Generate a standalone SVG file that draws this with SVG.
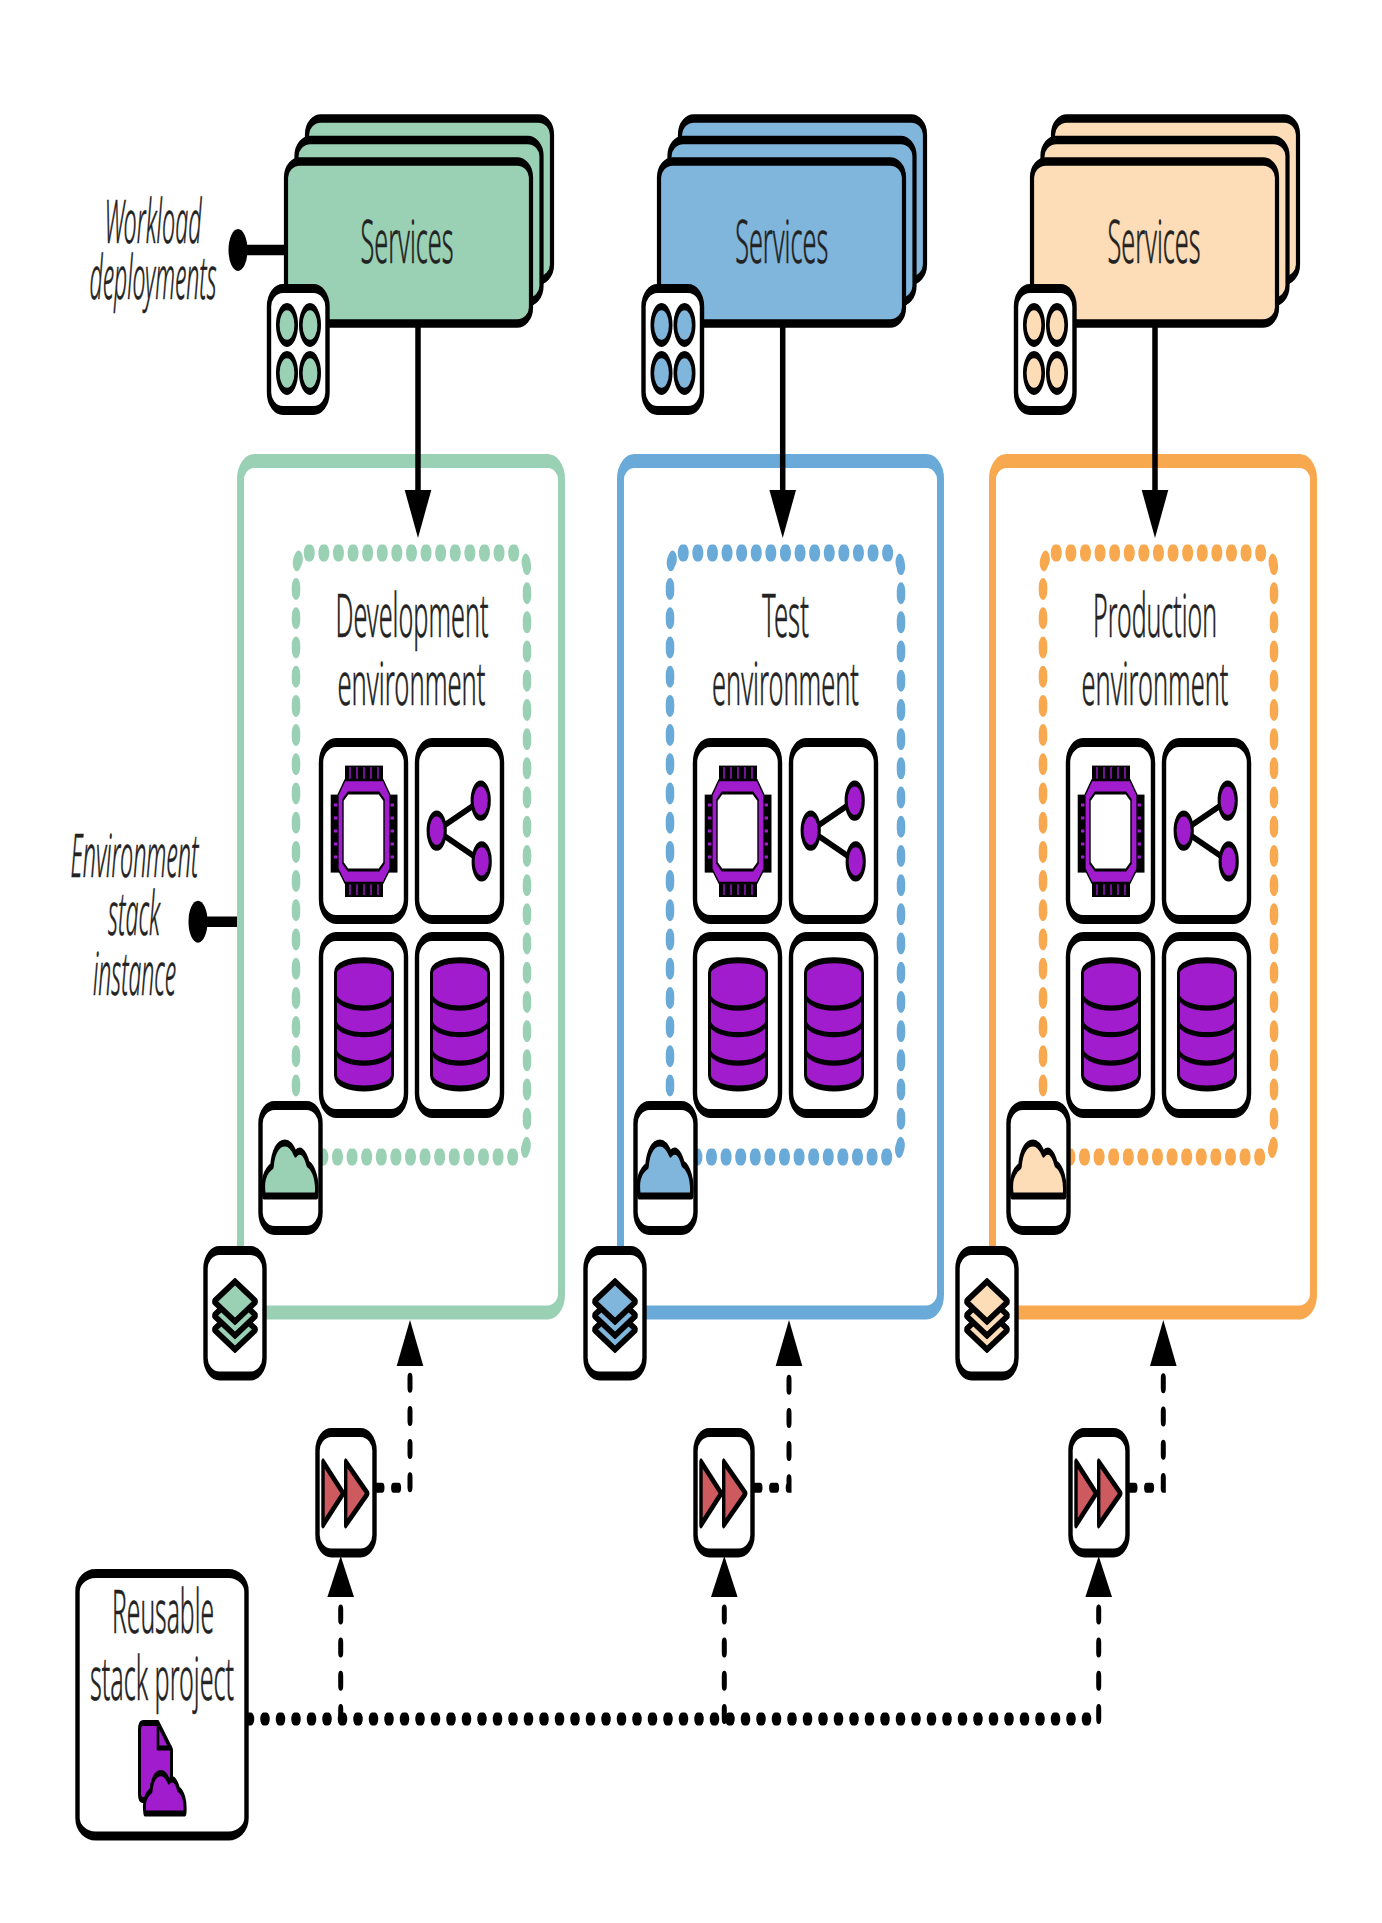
<svg xmlns="http://www.w3.org/2000/svg" width="1382" height="1923" viewBox="0 0 1382 1923">
<style>
.t{font-family:"Noto Sans","Open Sans",sans-serif;font-weight:300;font-size:30px;fill:#222;stroke:#222;stroke-width:.3;text-anchor:middle}
.i{font-style:italic}
.box{fill:#fff;stroke:#000;stroke-width:4.4}
.card{fill:currentColor;stroke:#000;stroke-width:4.2}
.ic{fill:currentColor;stroke:#000;stroke-width:3.6;stroke-linejoin:round}
.p{fill:#a01ccc;stroke:#000;stroke-width:3;stroke-linejoin:round}
.l{fill:none;stroke:#000;stroke-width:2.6}
.g{color:#9ad1b5}.b{color:#80b5dc}.o{color:#fddcb8}
.eg{color:#9ad1b5}.eb{color:#69aad8}.eo{color:#f8a84e}
.env{fill:none;stroke:currentColor;stroke-width:7}
.dot{fill:none;stroke:currentColor;stroke-width:8.5;stroke-dasharray:2.5 12.1;stroke-linecap:round}
.solid{fill:none;stroke:#000;stroke-width:5.5}
.lead{fill:none;stroke:#000;stroke-width:5.3}
.dash{fill:none;stroke:#000;stroke-width:5;stroke-dasharray:5 11.6;stroke-linecap:round}
.row{fill:none;stroke:#000;stroke-width:6.5;stroke-dasharray:3 12.5;stroke-linecap:round}
</style>
<defs>
<marker id="hd" markerUnits="userSpaceOnUse" orient="auto" markerWidth="30" markerHeight="30" refX="0" refY="15" overflow="visible"><path d="M0 1.7L24 15L0 28.3z" fill="#000"/></marker>
<marker id="hu" markerUnits="userSpaceOnUse" orient="auto" markerWidth="30" markerHeight="30" refX="0" refY="15" overflow="visible"><path d="M0 1.7L23 15L0 28.3z" fill="#000"/></marker>
<marker id="hp" markerUnits="userSpaceOnUse" orient="auto" markerWidth="30" markerHeight="30" refX="0" refY="15" overflow="visible"><path d="M0 1.7L20.5 15L0 28.3z" fill="#000"/></marker>
<g id="stack3">
<rect class="card" x="21" y="-21.5" width="245" height="81" rx="14" ry="8"/>
<rect class="card" x="10.5" y="-10.75" width="245" height="81" rx="14" ry="8"/>
<rect class="card" width="245" height="81" rx="14" ry="8"/>
</g>
<g id="pod">
<rect class="box" x="-.5" y="-1" width="58.5" height="61" rx="14" ry="9"/>
<circle class="ic" cx="17.5" cy="17.25" r="9.2"/><circle class="ic" cx="40.5" cy="17.25" r="9.2"/>
<circle class="ic" cx="17.5" cy="41.25" r="9.2"/><circle class="ic" cx="40.5" cy="41.25" r="9.2"/>
</g>
<g id="chipb">
<rect class="box" x="2" y="1.75" width="85" height="88.5" rx="15" ry="10"/>
<rect x="26" y="13.3" width="38" height="8" fill="#000"/><rect x="26" y="71" width="38" height="8" fill="#000"/>
<rect x="11.7" y="27.8" width="14" height="39" fill="#000"/><rect x="64.5" y="27.8" width="14" height="39" fill="#000"/>
<path d="M31 14V21M38 14V21M45 14V21M52 14V21M59 14V21M31 71V78M38 71V78M45 71V78M52 71V78M59 71V78M15 33H25M15 39.5H25M15 46H25M15 52.5H25M15 59H25M65 33H75M65 39.5H75M65 46H75M65 52.5H75M65 59H75" stroke="#a01ccc" stroke-width="1.4" fill="none"/>
<path class="p" style="stroke-width:1.2" d="M26 20.5H64L71 28V65L64 72H26L19 65V28z"/>
<path d="M29 27H60L65 30.5V62L60 65.5H29L24 62V30.5z" fill="#fff" stroke="#000" stroke-width="1.4"/>
</g>
<g id="shareb">
<rect class="box" x="2" y="1.75" width="85" height="88.5" rx="15" ry="10"/>
<path class="l" d="M21.7 45.8L65.7 30.8M21.7 45.8L66.7 61.2" style="stroke-width:3.2"/>
<circle class="p" cx="21.7" cy="45.8" r="8.6"/><circle class="p" cx="65.7" cy="30.8" r="8.6"/><circle class="p" cx="66.7" cy="61.2" r="8.6"/>
</g>
<g id="dbb">
<rect class="box" x="2" y="1.75" width="85" height="88.5" rx="15" ry="10"/>
<path class="p" d="M16.5 20C16.5 11.5 73.5 11.5 73.5 20V71C73.5 80 16.5 80 16.5 71z"/>
<path class="l" d="M16.5 31.7C23 39.5 67 39.5 73.5 31.7M16.5 45C23 52.8 67 52.8 73.5 45M16.5 59.2C23 67 67 67 73.5 59.2"/>
</g>
<path id="cloudp" d="M6 47C4 40 6 35 14 32C15 25 20 20.5 27 20.5C32 20.5 35 23 37.5 26C42 23 47 25 50 31C56 33 60 39 58.5 47z"/>
<g id="cloudb">
<rect class="box" x="2.5" y="1.75" width="60" height="62.5" rx="14" ry="9"/>
<use href="#cloudp" class="ic"/>
</g>
<g id="layers">
<rect class="box" x="2.5" y="1.75" width="59" height="62.75" rx="14" ry="9"/>
<path class="ic" d="M32 31.2L53 41.2L32 51.2L11 41.2z"/>
<path class="ic" d="M32 24.3L53 34.3L32 44.3L11 34.3z"/>
<path class="ic" d="M32 17.3L53 27.3L32 37.3L11 27.3z"/>
</g>
<g id="pipe">
<rect class="box" x="2.5" y="1.75" width="57" height="60.25" rx="14" ry="9"/>
<path d="M8 16.4V48L28.3 32.2zM30.7 16.4V48L52.7 32.2z" fill="#cd5a5f" stroke="#000" stroke-width="3.4" stroke-linejoin="round"/>
</g>
</defs>
<g id="diagram" transform="scale(1 2)">
<g id="env-dev" class="eg">
<rect class="env" x="240.5" y="230.5" width="321" height="425.75" rx="14" ry="9"/>
<rect class="dot" x="296" y="276.5" width="231" height="302" rx="12" ry="8"/>
<text class="t" x="412" y="318.5" textLength="153" lengthAdjust="spacingAndGlyphs">Development</text>
<text class="t" x="411.5" y="352.5" textLength="148" lengthAdjust="spacingAndGlyphs">environment</text>
<use href="#chipb" x="319" y="369.5"/><use href="#shareb" x="415" y="369.5"/><use href="#dbb" x="319" y="466.5"/><use href="#dbb" x="415" y="466.5"/>
</g>
<g id="env-test" class="eb">
<rect class="env" x="620.5" y="230.5" width="320" height="425.75" rx="14" ry="9"/>
<rect class="dot" x="670" y="276.5" width="231" height="302" rx="12" ry="8"/>
<text class="t" x="785.5" y="318.5" textLength="47" lengthAdjust="spacingAndGlyphs">Test</text>
<text class="t" x="785.5" y="352.5" textLength="147" lengthAdjust="spacingAndGlyphs">environment</text>
<use href="#chipb" x="693" y="369.5"/><use href="#shareb" x="789" y="369.5"/><use href="#dbb" x="693" y="466.5"/><use href="#dbb" x="789" y="466.5"/>
</g>
<g id="env-prod" class="eo">
<rect class="env" x="992.5" y="230.5" width="321" height="425.75" rx="14" ry="9"/>
<rect class="dot" x="1043" y="276.5" width="231" height="302" rx="12" ry="8"/>
<text class="t" x="1155" y="318.5" textLength="124" lengthAdjust="spacingAndGlyphs">Production</text>
<text class="t" x="1155" y="352.5" textLength="147" lengthAdjust="spacingAndGlyphs">environment</text>
<use href="#chipb" x="1066" y="369.5"/><use href="#shareb" x="1162" y="369.5"/><use href="#dbb" x="1066" y="466.5"/><use href="#dbb" x="1162" y="466.5"/>
</g>
<g id="connectors">
<path class="solid" d="M418 163V245" marker-end="url(#hd)"/>
<path class="solid" d="M782.7 163V245" marker-end="url(#hd)"/>
<path class="solid" d="M1155 163V245" marker-end="url(#hd)"/>
<path class="dash" d="M377 743.85H410V683" marker-end="url(#hu)"/>
<path class="dash" d="M755 743.85H789V683" marker-end="url(#hu)"/>
<path class="dash" d="M1130 743.85H1163.3V683" marker-end="url(#hu)"/>
<path class="row" d="M248 859.5H1098.7"/>
<path class="dash" d="M340.7 859.5V798.5" marker-end="url(#hp)"/>
<path class="dash" d="M724.3 859.5V798.5" marker-end="url(#hp)"/>
<path class="dash" d="M1098.7 859.5V798.5" marker-end="url(#hp)"/>
<path class="lead" d="M238 125H284"/><ellipse cx="238" cy="125" rx="9.5" ry="10.5"/>
<path class="lead" d="M198 460.85H237"/><ellipse cx="198" cy="460.85" rx="9.5" ry="10.5"/>
</g>
<g id="services-dev" class="g"><use href="#stack3" x="286" y="80.75"/><text class="t" x="407" y="131.5" textLength="93" lengthAdjust="spacingAndGlyphs">Services</text></g>
<g id="services-test" class="b"><use href="#stack3" x="659" y="80.75"/><text class="t" x="781.7" y="131.5" textLength="93" lengthAdjust="spacingAndGlyphs">Services</text></g>
<g id="services-prod" class="o"><use href="#stack3" x="1032" y="80.75"/><text class="t" x="1154" y="131.5" textLength="93" lengthAdjust="spacingAndGlyphs">Services</text></g>
<g id="pod-dev" class="g"><use href="#pod" x="269.5" y="145.25"/></g>
<g id="pod-test" class="b"><use href="#pod" x="644" y="145.25"/></g>
<g id="pod-prod" class="o"><use href="#pod" x="1016.5" y="145.25"/></g>
<g id="cloud-dev" class="g"><use href="#cloudb" x="258" y="551"/></g>
<g id="cloud-test" class="b"><use href="#cloudb" x="633" y="551"/></g>
<g id="cloud-prod" class="o"><use href="#cloudb" x="1006" y="551"/></g>
<g id="layers-dev" class="g"><use href="#layers" x="203" y="623.5"/></g>
<g id="layers-test" class="b"><use href="#layers" x="583" y="623.5"/></g>
<g id="layers-prod" class="o"><use href="#layers" x="955" y="623.5"/></g>
<g id="pipeline-dev"><use href="#pipe" x="315" y="714.5"/></g>
<g id="pipeline-test"><use href="#pipe" x="693" y="714.5"/></g>
<g id="pipeline-prod"><use href="#pipe" x="1068" y="714.5"/></g>
<g id="project">
<rect class="box" x="77.5" y="786.75" width="169" height="131.25" rx="18" ry="9"/>
<text class="t" x="163" y="816.5" textLength="102" lengthAdjust="spacingAndGlyphs">Reusable</text>
<text class="t" x="162" y="850" textLength="144" lengthAdjust="spacingAndGlyphs">stack project</text>
<path class="p" d="M143 861.5H158L171.5 875V900H143Q139.5 900 139.5 897V865Q139.5 861.5 143 861.5z"/>
<path class="l" d="M158 861.5V874H171.5"/>
<use href="#cloudp" class="p" transform="translate(140.4 871) scale(.76)" style="stroke-width:4"/>
</g>
<g id="label-workload">
<text class="t i" x="153" y="121.5" textLength="97" lengthAdjust="spacingAndGlyphs">Workload</text>
<text class="t i" x="153" y="149.5" textLength="127" lengthAdjust="spacingAndGlyphs">deployments</text>
</g>
<g id="label-environment">
<text class="t i" x="134.5" y="438.5" textLength="128" lengthAdjust="spacingAndGlyphs">Environment</text>
<text class="t i" x="134" y="467.5" textLength="52" lengthAdjust="spacingAndGlyphs">stack</text>
<text class="t i" x="134.5" y="497.5" textLength="83" lengthAdjust="spacingAndGlyphs">instance</text>
</g>
</g>
</svg>
